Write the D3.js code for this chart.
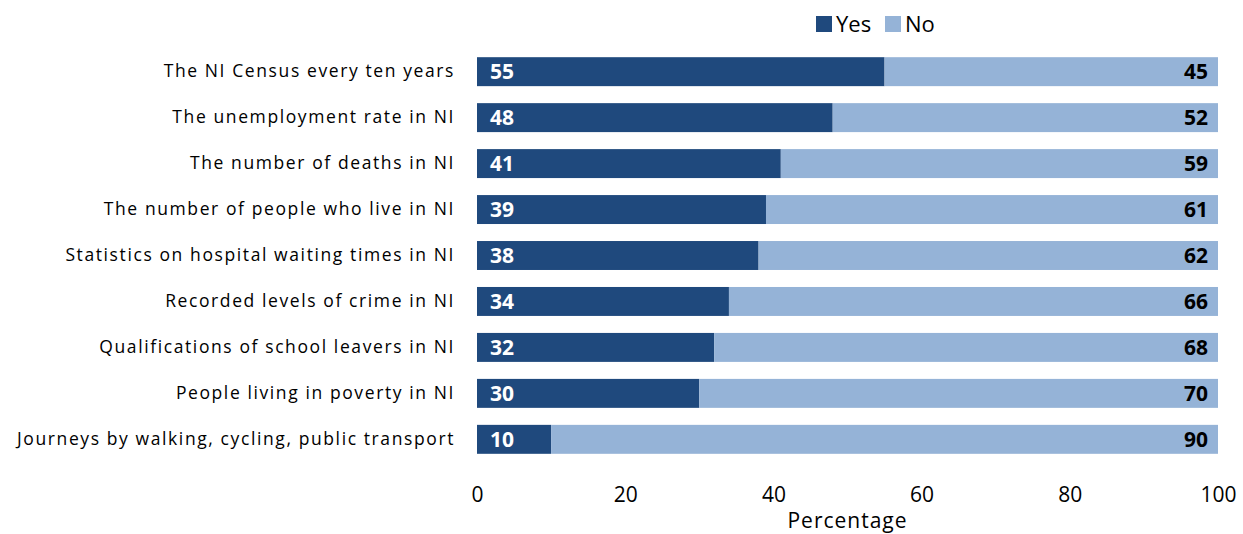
<!DOCTYPE html>
<html>
<head>
<meta charset="utf-8">
<script src="https://cdn.jsdelivr.net/npm/d3@7"></script>
<style>
  body { margin: 0; background: #fff; }
  text { font-family: "Open Sans", "Noto Sans", sans-serif; }
</style>
</head>
<body>
<script>
var width = 1243,
    height = 534;

// data
var categories = [
  "The NI Census every ten years",
  "The unemployment rate in NI",
  "The number of deaths in NI",
  "The number of people who live in NI",
  "Statistics on hospital waiting times in NI",
  "Recorded levels of crime in NI",
  "Qualifications of school leavers in NI",
  "People living in poverty in NI",
  "Journeys by walking, cycling, public transport"
];
var yesValues = [55, 48, 41, 39, 38, 34, 32, 30, 10];
var noValues  = [45, 52, 59, 61, 62, 66, 68, 70, 90];
var tickValues = [0, 20, 40, 60, 80, 100];
var seriesNames = ["Yes", "No"];
var colors = ["#1f497d", "#95b3d7"];

var margin = {top: 48, left: 477, right: 25, bottom: 71};

var svg = d3.select("body").append("svg")
    .attr("width", width)
    .attr("height", height);

var x = d3.scaleLinear()
    .domain([0, 100])
    .range([margin.left, width - margin.right]);

var y = d3.scaleBand()
    .domain(categories)
    .range([margin.top, height - margin.bottom])
    .paddingInner(0.37)
    .paddingOuter(0.2);

var rows = categories.map(function(c, i) {
  return {cat: c, yes: yesValues[i], no: noValues[i]};
});

// stacked bars
var g = svg.append("g");
rows.forEach(function(d) {
  g.append("rect")
    .attr("x", x(0))
    .attr("y", y(d.cat))
    .attr("width", x(d.yes) - x(0))
    .attr("height", y.bandwidth())
    .attr("fill", colors[0]);
  g.append("rect")
    .attr("x", x(d.yes))
    .attr("y", y(d.cat))
    .attr("width", x(d.yes + d.no) - x(d.yes))
    .attr("height", y.bandwidth())
    .attr("fill", colors[1]);
  g.append("text")
    .attr("x", x(0) + 13)
    .attr("y", y(d.cat) + y.bandwidth() / 2)
    .attr("dy", "0.36em")
    .attr("fill", "#fff")
    .attr("font-weight", "bold")
    .attr("font-size", 21)
    .text(d.yes);
  g.append("text")
    .attr("x", x(d.yes + d.no) - 10)
    .attr("y", y(d.cat) + y.bandwidth() / 2)
    .attr("dy", "0.36em")
    .attr("text-anchor", "end")
    .attr("fill", "#000")
    .attr("font-weight", "bold")
    .attr("font-size", 21)
    .text(d.no);
});

// category labels
var yAxis = svg.append("g")
    .attr("transform", "translate(" + (margin.left - 22) + ",0)")
    .call(d3.axisLeft(y).tickSize(0).tickPadding(0));
yAxis.select(".domain").remove();
yAxis.selectAll("text")
    .attr("font-size", 17.5)
    .attr("fill", "#000")
    .style("letter-spacing", "1.6px")
    .style("font-family", "'Open Sans', sans-serif");

// x axis
var xAxis = svg.append("g")
    .attr("transform", "translate(0," + (height - margin.bottom + 2) + ")")
    .call(d3.axisBottom(x).tickValues(tickValues).tickSize(0).tickPadding(22));
xAxis.select(".domain").remove();
xAxis.selectAll("text")
    .attr("font-size", 21)
    .attr("fill", "#000")
    .style("font-family", "'Open Sans', sans-serif");

svg.append("text")
    .attr("x", (x(0) + x(100)) / 2)
    .attr("y", 528)
    .attr("text-anchor", "middle")
    .attr("font-size", 21)
    .style("letter-spacing", "1px")
    .text("Percentage");

// legend
var legend = svg.append("g").attr("transform", "translate(816,16)");
var lx = [0, 69];
seriesNames.forEach(function(s, i) {
  legend.append("rect")
    .attr("x", lx[i])
    .attr("y", 0)
    .attr("width", 16)
    .attr("height", 16)
    .attr("fill", colors[i]);
  legend.append("text")
    .attr("x", lx[i] + 20)
    .attr("y", 8)
    .attr("dy", "0.36em")
    .attr("font-size", 22)
    .text(s);
});
</script>
</body>
</html>
